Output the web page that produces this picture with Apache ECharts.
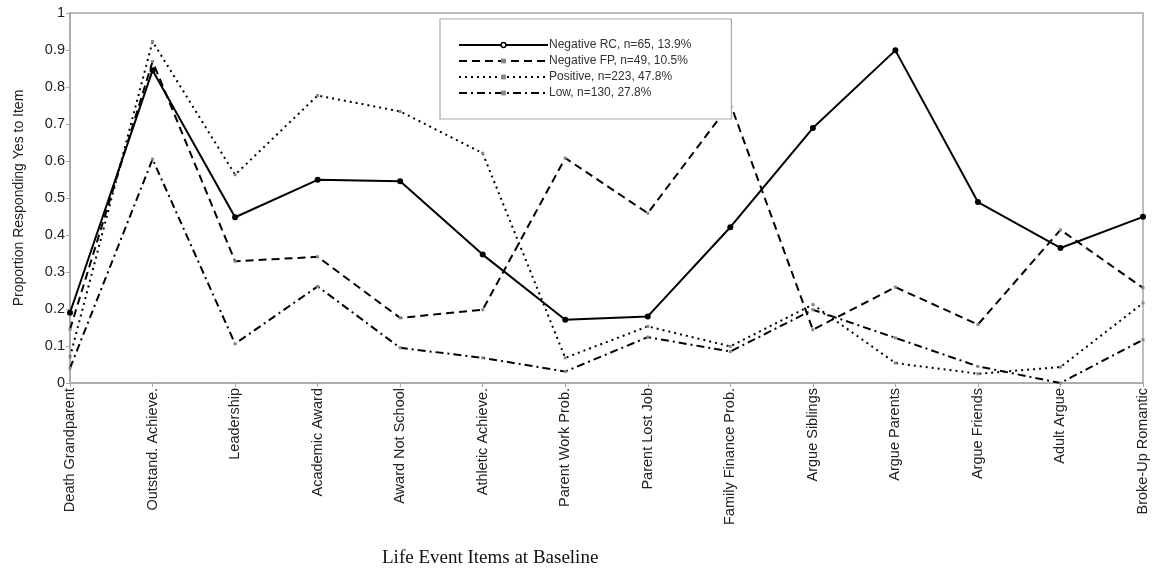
<!DOCTYPE html>
<html>
<head>
<meta charset="utf-8">
<script src="https://cdn.jsdelivr.net/npm/echarts@6/dist/echarts.min.js"></script>
<style>html,body{margin:0;padding:0;background:#fff;}#c{width:1160px;height:572px;}</style>
</head>
<body>
<div id="c"></div>
<script>
const categories = ['Death Grandparent','Outstand. Achieve.','Leadership','Academic Award','Award Not School','Athletic Achieve.','Parent Work Prob.','Parent Lost Job','Family Finance Prob.','Argue Siblings','Argue Parents','Argue Friends','Adult Argue','Broke-Up Romantic'];
const seriesNames = ['Negative RC, n=65, 13.9%','Negative FP, n=49, 10.5%','Positive, n=223, 47.8%','Low, n=130, 27.8%'];
const negativeRC = [0.19,0.845,0.448,0.549,0.545,0.347,0.171,0.180,0.421,0.689,0.899,0.489,0.365,0.449];
const negativeFP = [0.145,0.869,0.329,0.341,0.176,0.198,0.608,0.459,0.755,0.144,0.259,0.158,0.414,0.257];
const positive = [0.07,0.923,0.563,0.777,0.734,0.621,0.068,0.153,0.099,0.212,0.054,0.025,0.043,0.216];
const low = [0.04,0.605,0.106,0.261,0.095,0.068,0.031,0.124,0.085,0.198,0.122,0.045,0.0,0.117];
const xTitle = 'Life Event Items at Baseline';
const yTitle = 'Proportion Responding Yes to Item';

const chart = echarts.init(document.getElementById('c'), null, {renderer:'canvas'});
const sans = 'Liberation Sans, Arial, sans-serif';
const small = {symbol:'rect', symbolSize:3, itemStyle:{color:'#888'}};
chart.setOption({
  animation:false,
  backgroundColor:'#fff',
  title:{text:xTitle, left:377, top:544, textStyle:{fontFamily:'Liberation Serif, Times New Roman, serif', fontSize:19, fontWeight:'normal', color:'#111'}},
  grid:{left:70, right:17, top:13, bottom:189, show:true, borderColor:'#a8a8a8', borderWidth:1.5},
  legend:{
    orient:'vertical', left:440, top:19, padding:[20,40,20,18],
    borderColor:'#a8a8a8', borderWidth:1.2, backgroundColor:'#fff',
    itemWidth:89, itemHeight:6, itemGap:4,
    textStyle:{fontFamily:sans, fontSize:12, color:'#333', padding:[0,0,0,-4]},
    data:[
      {name:seriesNames[0], itemStyle:{color:'#fff', borderColor:'#000', borderWidth:1.5}},
      {name:seriesNames[1]},
      {name:seriesNames[2]},
      {name:seriesNames[3]}
    ]
  },
  xAxis:{
    type:'category', data:categories, boundaryGap:false,
    axisLine:{lineStyle:{color:'#a8a8a8', width:1.5}},
    axisTick:{show:true, length:4, lineStyle:{color:'#a8a8a8'}},
    axisLabel:{rotate:90, margin:5, fontFamily:sans, fontSize:14.5, color:'#222'},
    splitLine:{show:false}
  },
  yAxis:{
    type:'value', min:0, max:1, interval:0.1,
    name:yTitle, nameLocation:'middle', nameGap:44,
    nameTextStyle:{fontFamily:sans, fontSize:14, color:'#222'},
    axisLine:{show:true, lineStyle:{color:'#a8a8a8', width:1.5}},
    axisTick:{show:true, length:4, lineStyle:{color:'#a8a8a8'}},
    axisLabel:{margin:5, fontFamily:sans, fontSize:14.5, color:'#222'},
    splitLine:{show:false}
  },
  series:[
    {name:seriesNames[0], type:'line', data:negativeRC, symbol:'circle', symbolSize:6, itemStyle:{color:'#000'}, lineStyle:{color:'#000', width:2, type:'solid'}, z:5},
    Object.assign({name:seriesNames[1], type:'line', data:negativeFP, lineStyle:{color:'#000', width:2, type:[8,5]}}, small),
    Object.assign({name:seriesNames[2], type:'line', data:positive, lineStyle:{color:'#000', width:2, type:[2,4]}}, small),
    Object.assign({name:seriesNames[3], type:'line', data:low, lineStyle:{color:'#000', width:2, type:[8,4,2,4]}}, small)
  ]
});
</script>
</body>
</html>
